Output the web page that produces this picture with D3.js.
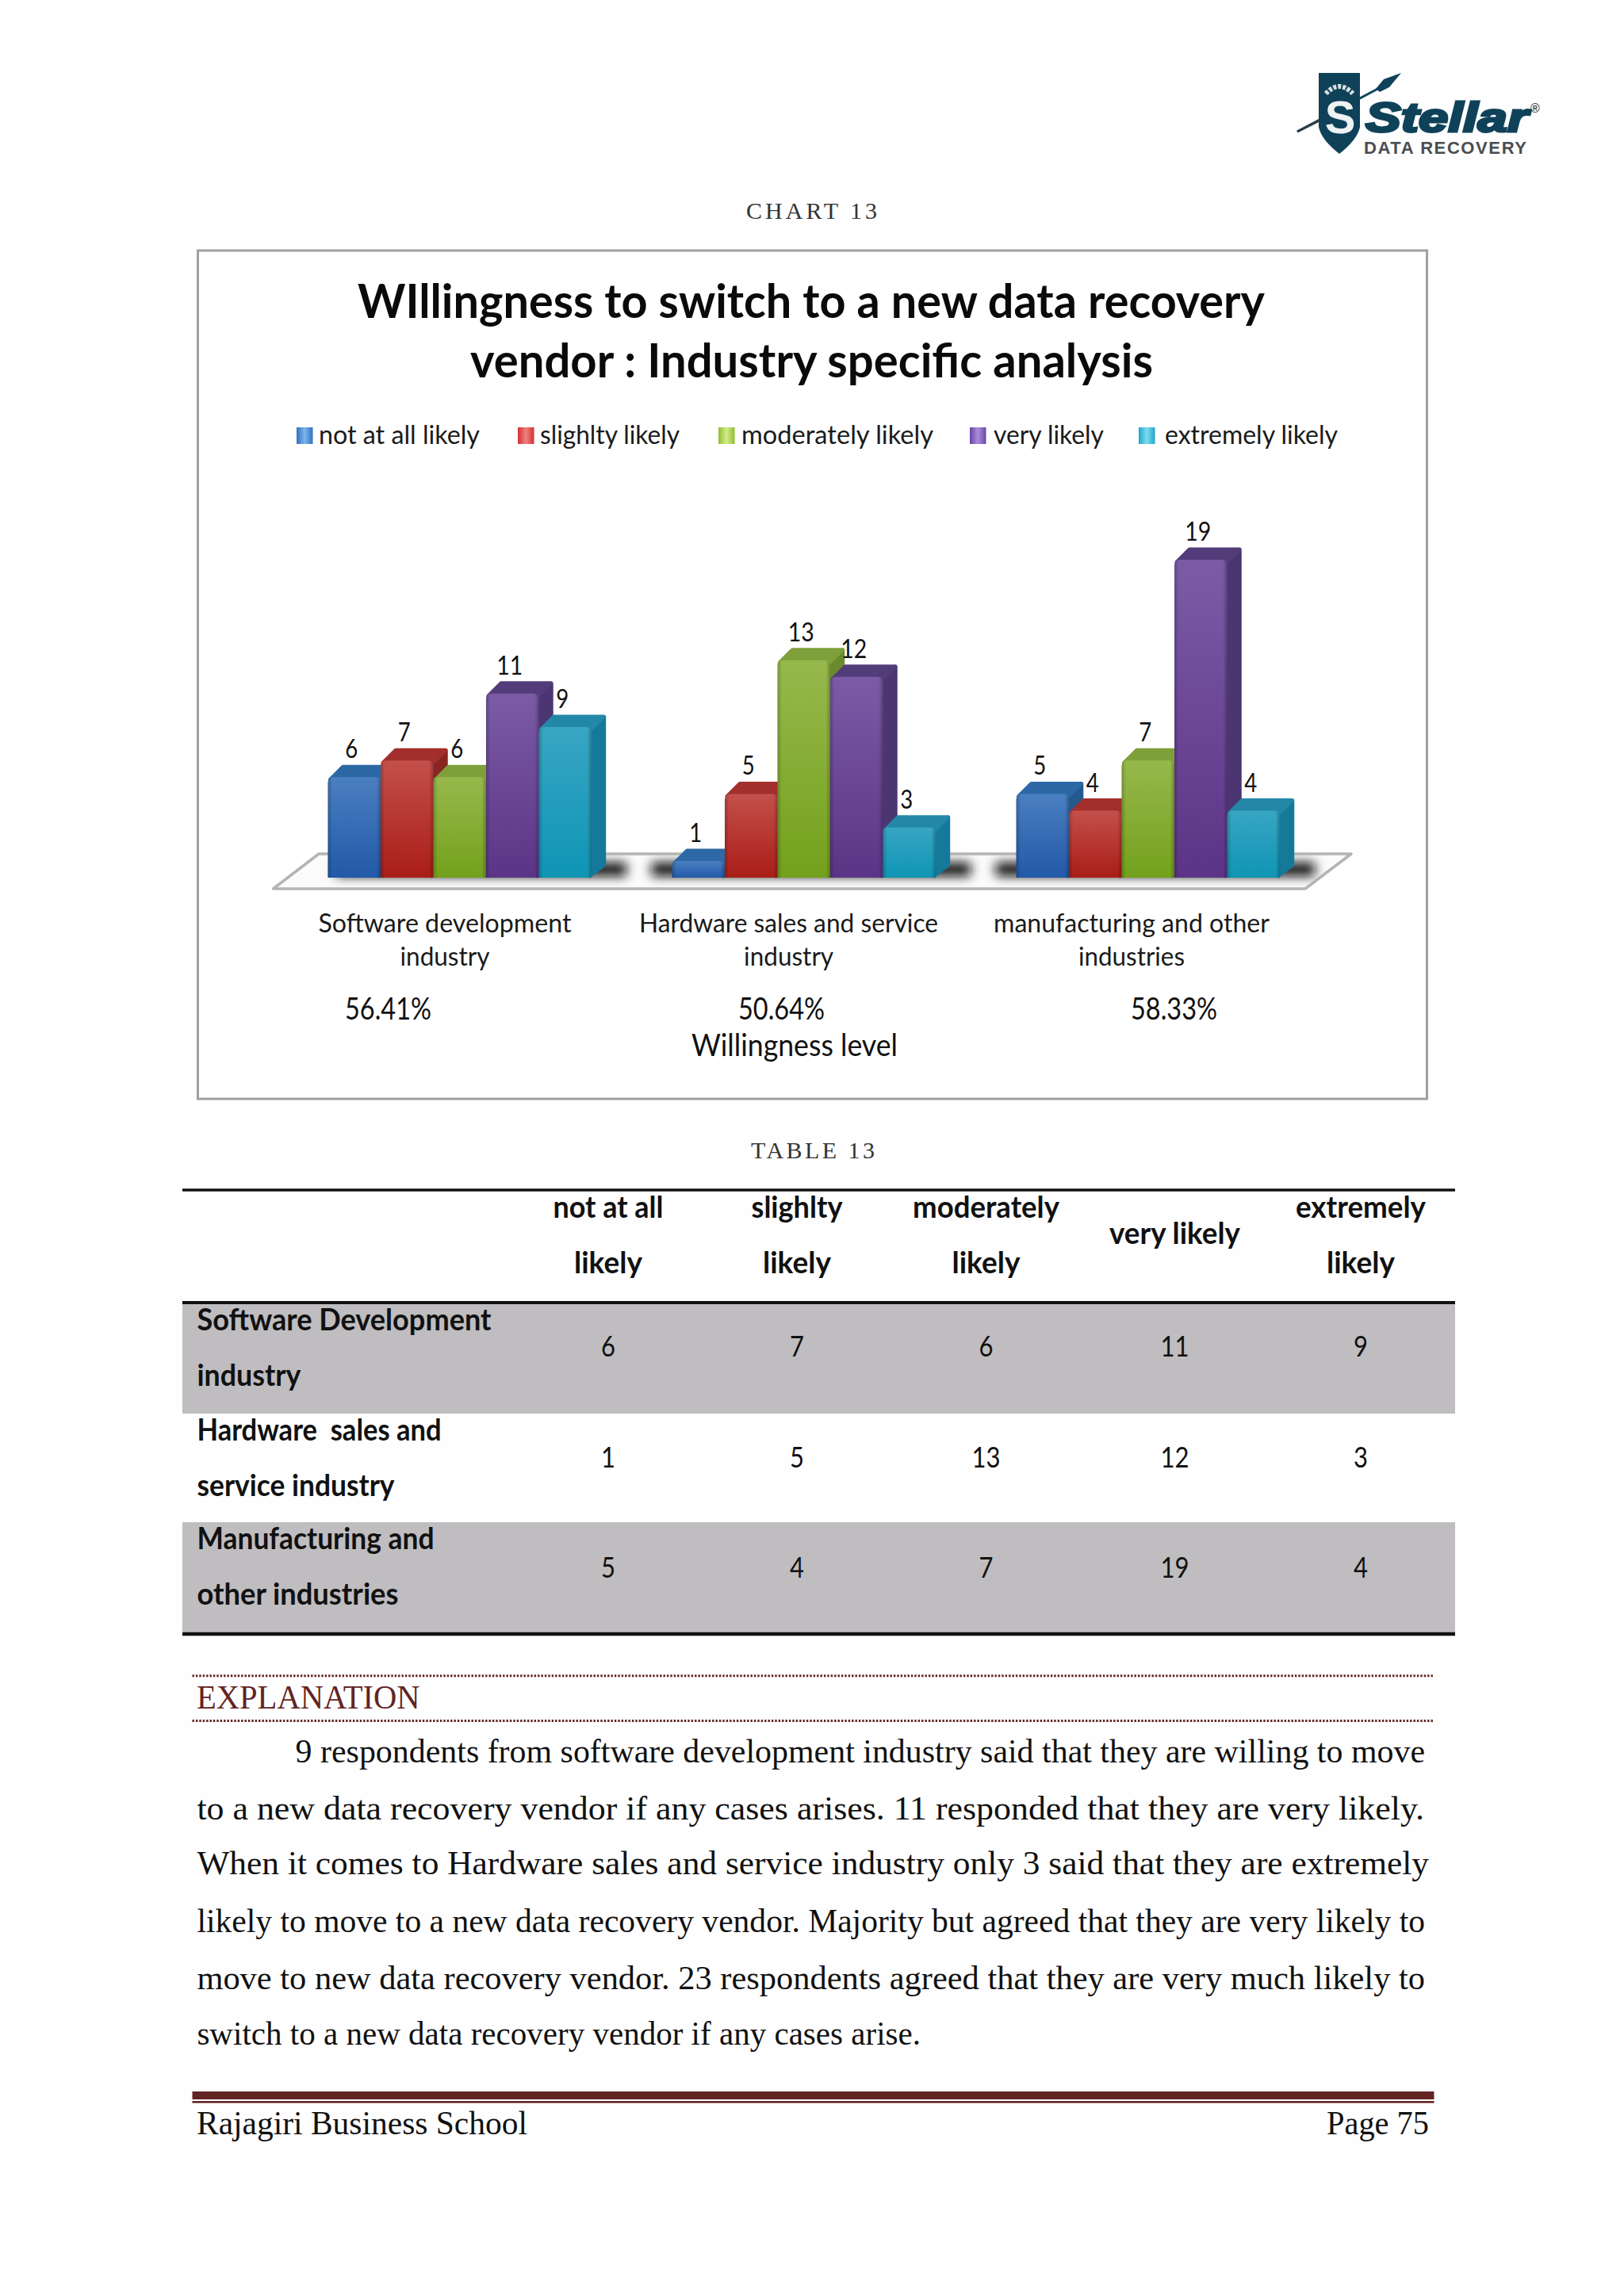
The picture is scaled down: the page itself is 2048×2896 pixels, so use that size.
<!DOCTYPE html>
<html><head><meta charset="utf-8">
<script src="https://cdnjs.cloudflare.com/ajax/libs/d3/7.8.5/d3.min.js"></script>
<style>html,body{margin:0;padding:0;background:#fefefe}svg{display:block}</style>
</head><body><svg id="page" width="2048" height="2896"></svg>
<script>
// ---- data ----
const categories = ["Software development industry","Hardware sales and service industry","manufacturing and other industries"];
const seriesNames = ["not at all likely","slighlty likely","moderately likely","very likely","extremely likely"];
const notAtAll = [6,1,5];
const slightly = [7,5,4];
const moderately = [6,13,7];
const veryLikely = [11,12,19];
const extremely = [9,3,4];
const willingness = ["56.41%","50.64%","58.33%"];
const titleLines = ["WIllingness to switch to a new data recovery","vendor : Industry specific analysis"];
const categoryLines = [["Software development","industry"],["Hardware sales and service","industry"],["manufacturing and other","industries"]];
const tableColumns = [["not at all","likely"],["slighlty","likely"],["moderately","likely"],["very likely"],["extremely","likely"]];
const tableRows = [["Software Development","industry"],["Hardware  sales and","service industry"],["Manufacturing and","other industries"]];
const explanationLines = [
 "9 respondents from software development industry said that they are willing to move",
 "to a new data recovery vendor if any cases arises. 11 responded that they are very likely.",
 "When it comes to Hardware sales and service industry only 3 said that they are extremely",
 "likely to move to a new data recovery vendor. Majority but agreed that they are very likely to",
 "move to new data recovery vendor. 23 respondents agreed that they are very much likely to",
 "switch to a new data recovery vendor if any cases arise."];

const allSeries = [notAtAll,slightly,moderately,veryLikely,extremely];
const svg = d3.select("#page");
const defs = svg.append("defs");
const SANS = "Lato, 'Open Sans', sans-serif", SERIF = "'Liberation Serif', serif", LOGO = "'Liberation Sans',sans-serif";

function txt(g, s, x, y, o={}) {
  const t = g.append("text").attr("x",x).attr("y",y).text(s)
    .attr("font-family",o.family||SANS).attr("font-size",o.size||30)
    .attr("font-weight",o.weight||400).attr("fill",o.fill||"#111")
    .attr("text-anchor",o.anchor||"start").attr("xml:space","preserve");
  if (o.w) t.attr("textLength",o.w).attr("lengthAdjust",o.adjust||"spacingAndGlyphs");
  if (o.style) t.attr("font-style",o.style);
  return t;
}

// ---- logo ----
const logo = svg.append("g");
const NAVY = "#0f4259";
logo.append("line").attr("x1",1636).attr("y1",166).attr("x2",1745).attr("y2",108).attr("stroke",NAVY).attr("stroke-width",3);
logo.append("path").attr("d","M1663,92 H1715 V160 Q1712,176 1689,194 Q1666,176 1663,160 Z").attr("fill",NAVY);
logo.append("line").attr("x1",1636).attr("y1",166).attr("x2",1664).attr("y2",152).attr("stroke","#2a3a44").attr("stroke-width",3);
logo.append("path").attr("d","M1735,112 L1745,100 L1767,92 L1752,110 L1740,116 Z").attr("fill",NAVY);
txt(logo,"S",1690,168,{size:58,weight:700,fill:"#eef2f3",anchor:"middle",family:LOGO});
logo.append("path").attr("d","M1672,118 Q1689,100 1706,118").attr("fill","none").attr("stroke","#d8dfe2").attr("stroke-width",6).attr("stroke-dasharray","4 2");
txt(logo,"Stellar",1722,166,{size:52,weight:700,style:"italic",fill:NAVY,family:LOGO,w:205}).attr("stroke",NAVY).attr("stroke-width",3);
txt(logo,"DATA RECOVERY",1720,194,{size:22,weight:700,fill:"#4a4d50",family:LOGO,w:205,adjust:"spacing"});
txt(logo,"®",1930,142,{size:16,weight:700,fill:"#4a4d50",family:LOGO});

// ---- captions ----
txt(svg,"CHART 13",941,276,{family:SERIF,size:30,fill:"#333",w:165,adjust:"spacing"});
txt(svg,"TABLE 13",947,1461,{family:SERIF,size:30,fill:"#333",w:156,adjust:"spacing"});

// ---- chart frame ----
svg.append("rect").attr("x",249.5).attr("y",316).attr("width",1550).attr("height",1070)
  .attr("fill","#fff").attr("stroke","#a0a0a0").attr("stroke-width",3);

// title
txt(svg,titleLines[0],451,401,{size:60,weight:700,fill:"#0a0a0a",w:1144});
txt(svg,titleLines[1],593,476,{size:60,weight:700,fill:"#0a0a0a",w:861});

// ---- bar geometry ----
const x0 = d3.scaleBand().domain(categories).range([413.5,1614]).paddingInner(0.234);
const x1 = d3.scaleBand().domain(seriesNames).range([0,x0.bandwidth()]);
const y = d3.scaleLinear().domain([0,19]).range([1107,706]);
const dx = 18, dy = 16;

const palette = [
 {top:"#4a7fc0",bot:"#2259a8",side:"#24598f",cap:"#2c68a6",s1:"#2f72c0",s2:"#7fb4ec"},
 {top:"#c4504b",bot:"#aa1d17",side:"#8a2522",cap:"#a22f2c",s1:"#d63030",s2:"#f08080"},
 {top:"#97b84c",bot:"#73a11c",side:"#6b8a2c",cap:"#7f9f3b",s1:"#8fbf2f",s2:"#d4ec8a"},
 {top:"#7b5ba6",bot:"#5c3487",side:"#4b3671",cap:"#533c7a",s1:"#6a45a8",s2:"#a98fd8"},
 {top:"#38a5c4",bot:"#0f95b4",side:"#15799a",cap:"#2388a8",s1:"#1fa6cc",s2:"#7fdcf0"}];
palette.forEach((p,i)=>{
  const g = defs.append("linearGradient").attr("id","front"+i).attr("x1",0).attr("y1",0).attr("x2",0).attr("y2",1);
  g.append("stop").attr("offset",0).attr("stop-color",p.top);
  g.append("stop").attr("offset",1).attr("stop-color",p.bot);
  const h = defs.append("linearGradient").attr("id","sw"+i).attr("x1",0).attr("y1",0).attr("x2",1).attr("y2",0);
  h.append("stop").attr("offset",0).attr("stop-color",p.s1);
  h.append("stop").attr("offset",0.5).attr("stop-color",p.s2);
  h.append("stop").attr("offset",1).attr("stop-color",p.s1);
});
const bevel = defs.append("linearGradient").attr("id","bevel").attr("x1",0).attr("y1",0).attr("x2",1).attr("y2",0);
[[0,0.22],[0.08,0],[0.92,0],[1,0.25]].forEach(([o,a])=>bevel.append("stop").attr("offset",o).attr("stop-color","#000").attr("stop-opacity",a));
defs.append("filter").attr("id","blur").attr("x","-20%").attr("y","-150%").attr("width","140%").attr("height","400%")
  .append("feGaussianBlur").attr("stdDeviation",7);
const floorPts = [[344.6,1121],[402,1077],[1704,1077],[1646,1121]];
defs.append("clipPath").attr("id","floorClip").append("polygon").attr("points",floorPts.join(" "));

// floor
svg.append("polygon").attr("points",floorPts.join(" ")).attr("fill","#fbfbfb");
const shadow = svg.append("g").attr("clip-path","url(#floorClip)");
categories.forEach((c,i)=>{
  const left = i===0 ? x0(c)+10 : x0(c)-26;
  const right = x0(c)+x0.bandwidth()+44;
  shadow.append("rect").attr("x",left).attr("y",1088).attr("width",right-left).attr("height",17)
    .attr("fill","#111").attr("filter","url(#blur)");
});
svg.append("polygon").attr("points",floorPts.join(" ")).attr("fill","none")
  .attr("stroke","#b4b4b4").attr("stroke-width",3.5).attr("stroke-linejoin","round");

// bars
const barG = svg.append("g");
categories.forEach((c,ci)=>{
  seriesNames.forEach((s,si)=>{
    const v = allSeries[si][ci], p = palette[si];
    const l = x0(c)+x1(s), r = l+x1.bandwidth(), t = y(v), b = y(0);
    const g = barG.append("g");
    g.append("polygon").attr("points",[[r-2,t+2],[r+dx-2,t-dy+3],[r+dx-2,b-dy],[r-2,b-2]].join(" "))
      .attr("fill",p.side).attr("stroke",p.side).attr("stroke-width",4.5).attr("stroke-linejoin","round");
    g.append("polygon").attr("points",[[l+3,t+3],[l+dx+1,t-dy+3],[r+dx-3,t-dy+3],[r-1,t+3]].join(" "))
      .attr("fill",p.cap).attr("stroke",p.cap).attr("stroke-width",5).attr("stroke-linejoin","round");
    const front = `M${l},${b} V${t+7} Q${l},${t} ${l+7},${t} H${r-7} Q${r},${t} ${r},${t+7} V${b} Z`;
    g.append("path").attr("d",front).attr("fill",`url(#front${si})`);
    g.append("path").attr("d",front).attr("fill","url(#bevel)");
  });
});
// value labels
categories.forEach((c,ci)=>{
  seriesNames.forEach((s,si)=>{
    const v = allSeries[si][ci];
    txt(svg,String(v),x0(c)+x1(s)+x1.bandwidth()/2-3.5,y(v)-24,{size:33,anchor:"middle",w:String(v).length>1?33:16,fill:"#111"});
  });
});

// legend
const legendSwatch = [374,653,906,1223,1436];
const legendText = [402,681,935,1253,1469];
const legendW = [203,176,242,139,218];
seriesNames.forEach((s,i)=>{
  svg.append("rect").attr("x",legendSwatch[i]).attr("y",539).attr("width",20.5).attr("height",21).attr("fill",`url(#sw${i})`);
  txt(svg,s,legendText[i],559.5,{size:33,fill:"#1a1a1a",w:legendW[i]});
});

// category labels
const catCentres = [561,994.6,1427];
const catW = [[319,113],[377,113],[348,134]];
categoryLines.forEach((ls,i)=>{
  ls.forEach((s,j)=>{
    txt(svg,s,catCentres[i]-catW[i][j]/2,1176+j*42,{size:33,fill:"#1a1a1a",w:catW[i][j]});
  });
});
const pctX = [435,931,1426];
willingness.forEach((s,i)=>txt(svg,s,pctX[i],1286,{size:38,fill:"#111",w:109}));
txt(svg,"Willingness level",872,1332,{size:39,fill:"#111",w:260});

// ---- table ----
const colX = d3.scaleOrdinal().domain(seriesNames).range([767,1005,1243.5,1481.5,1716]);
const tableL = 230, tableR = 1835;
const rowTop = [1644,1783,1920], rowBot = [1783,1920,2060];
const bandG = svg.append("g");
rowTop.forEach((t,i)=>{ if(i!==1) bandG.append("rect").attr("x",tableL).attr("y",t).attr("width",tableR-tableL).attr("height",rowBot[i]-t).attr("fill","#bfbdc0"); });
[[1501,3.5],[1643,4],[2061,4.5]].forEach(([yy,w])=>{
  svg.append("line").attr("x1",tableL).attr("x2",tableR).attr("y1",yy).attr("y2",yy).attr("stroke","#111").attr("stroke-width",w);
});
const headW = {"not at all":139,"likely":86,"slighlty":115,"moderately":185,"very likely":165,"extremely":164};
tableColumns.forEach((ls,i)=>{
  const cx = colX(seriesNames[i]);
  const ys = ls.length===2 ? [1536,1606] : [1569];
  ls.forEach((s,j)=>txt(svg,s,cx-headW[s]/2,ys[j],{size:38,weight:700,fill:"#111",w:headW[s]}));
});
const rowTextY = [[1677.6,1747.6],[1817,1887],[1954,2024]];
const rowW = [[371,131],[308,249],[299,254]];
const rowNumY = [1711,1851,1990];
tableRows.forEach((ls,i)=>{
  ls.forEach((s,j)=>txt(svg,s,248.5,rowTextY[i][j],{size:38,weight:700,fill:"#111",w:rowW[i][j]}));
  seriesNames.forEach((n,si)=>{
    const v = allSeries[si][i];
    txt(svg,String(v),colX(n),rowNumY[i],{size:36,anchor:"middle",fill:"#111",w:String(v).length>1?36:18});
  });
});

// ---- explanation ----
[2113.7,2170.4].forEach(yy=>{
  svg.append("line").attr("x1",242.5).attr("x2",1808.6).attr("y1",yy).attr("y2",yy)
    .attr("stroke","#622423").attr("stroke-width",3).attr("stroke-dasharray","2.4 2");
});
txt(svg,"EXPLANATION",248,2155,{family:SERIF,size:43,fill:"#622423",w:281.6});
const lineX = [372.6,248.4,248.4,248.4,248.4,248.4];
const lineEnd = [1797,1796,1802,1797,1797,1161];
const lineY = [2222.6,2294.5,2364,2436.5,2508.5,2578.5];
explanationLines.forEach((s,i)=>{
  txt(svg,s,lineX[i],lineY[i],{family:SERIF,size:43,fill:"#111",w:lineEnd[i]-lineX[i]});
});

// ---- footer ----
svg.append("rect").attr("x",242.5).attr("y",2638).attr("width",1566).attr("height",10).attr("fill","#622423");
svg.append("rect").attr("x",242.5).attr("y",2650).attr("width",1566).attr("height",2.6).attr("fill","#622423");
txt(svg,"Rajagiri Business School",248,2692,{family:SERIF,size:43,fill:"#111",w:417});
txt(svg,"Page 75",1673,2692,{family:SERIF,size:43,fill:"#111",w:129});
</script></body></html>
